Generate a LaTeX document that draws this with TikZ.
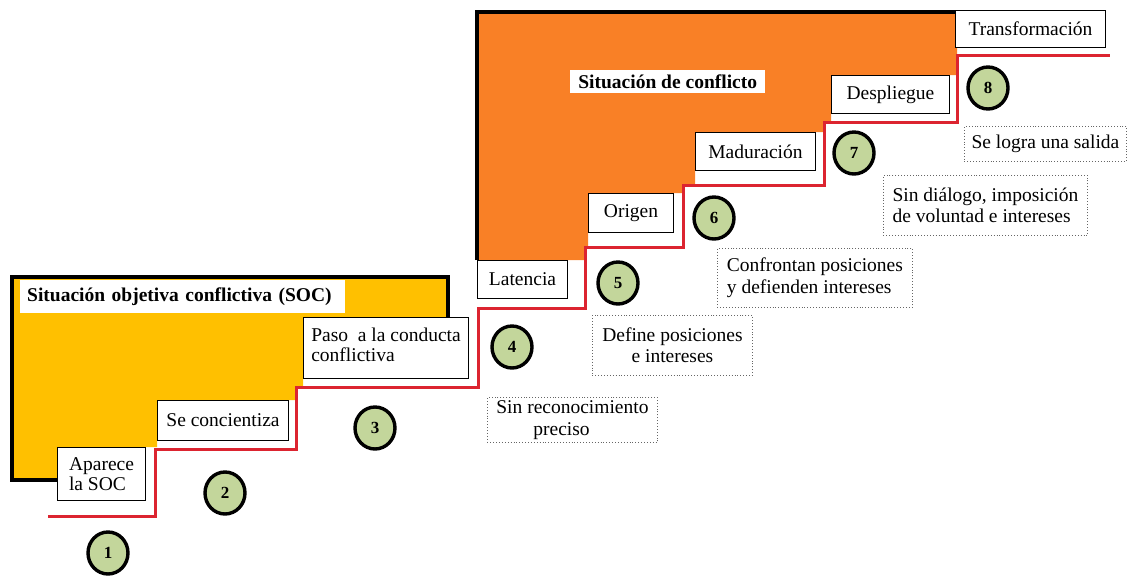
\documentclass[tikz,border=0pt]{standalone}
\usepackage{fontspec}
\setmainfont{Liberation Serif}
\usetikzlibrary{shapes.geometric}
\definecolor{socyellow}{HTML}{FFC000}
\definecolor{conforange}{HTML}{F98026}
\definecolor{stepred}{HTML}{DC2430}
\definecolor{circgreen}{HTML}{C3D69B}
\begin{document}
\begin{tikzpicture}[x=1pt,y=-1pt,
  stepbox/.style={draw=black, line width=1pt, fill=white, anchor=north west,
    inner xsep=3pt, inner ysep=0pt, align=left,
    font=\fontsize{19.5}{20}\selectfont},
  notebox/.style={draw=gray!80!black, dotted, line width=0.9pt, fill=white, anchor=north west,
    inner xsep=3pt, inner ysep=0pt,
    font=\fontsize{19.5}{21.5}\selectfont},
  titlebox/.style={fill=white, anchor=north west, inner xsep=7pt, inner ysep=0pt,
    font=\fontsize{19.5}{21}\selectfont\bfseries},
  numcirc/.style={ellipse, draw=black, line width=3.4pt, fill=circgreen, minimum width=40pt,
    minimum height=42pt, inner sep=0pt, font=\fontsize{17}{17}\selectfont\bfseries},
  border/.style={draw=black, line width=4pt},
  stairline/.style={draw=stepred, line width=3pt}
]
\useasboundingbox (0,0) rectangle (1130,584);
% yellow area
\fill[socyellow] (12,277) -- (448,277) -- (448,317) -- (303,317) -- (303,387) -- (296,387)
  -- (296,400) -- (157,400) -- (157,447) -- (57,447) -- (57,480) -- (12,480) -- cycle;
\draw[border] (57,480) -- (12,480) -- (12,277) -- (448,277) -- (448,317);
% orange area
\fill[conforange] (477,12) -- (957,12) -- (957,75) -- (831,75) -- (831,122) -- (823,122)
  -- (823,132) -- (695,132) -- (695,185) -- (683,185) -- (683,193) -- (588,193)
  -- (588,247) -- (585,247) -- (585,260) -- (477,260) -- cycle;
\draw[border] (477,260) -- (477,12) -- (957,12);
% red staircase
\draw[stairline] (48,516) -- (155,516) -- (155,449) -- (296,449) -- (296,387) -- (478,387)
  -- (478,308) -- (585,308) -- (585,247) -- (683,247) -- (683,185) -- (824,185)
  -- (824,122) -- (957,122) -- (957,55) -- (1110,55);
% titles
\node[titlebox, minimum width=325pt, minimum height=33pt, text width=311pt] (soc) at (20,280)
  {Situación objetiva conflictiva (SOC)};
\node[titlebox, minimum width=195pt, minimum height=23pt, inner xsep=6pt] (conf) at (570,70)
  {Situación de conflicto};
% step boxes
\node[stepbox, minimum width=88pt, minimum height=53pt] (aparece) at (57,447)
  {Aparece\\la SOC};
\node[stepbox, minimum width=131pt, minimum height=40pt] (concientiza) at (157,400)
  {Se concientiza};
\node[stepbox, minimum width=165pt, minimum height=61pt] (paso) at (303,317)
  {Paso\ \ a la conducta\\conflictiva\strut};
\node[stepbox, minimum width=90pt, minimum height=38pt] (latencia) at (477,260)
  {Latencia};
\node[stepbox, minimum width=85pt, minimum height=39pt] (origen) at (588,193)
  {Origen};
\node[stepbox, minimum width=120pt, minimum height=38pt] (maduracion) at (695,132)
  {Maduración};
\node[stepbox, minimum width=118pt, minimum height=38pt] (despliegue) at (831,75)
  {Despliegue};
\node[stepbox, minimum width=150pt, minimum height=37pt] (transformacion) at (955,10)
  {Transformación};
% note boxes
\node[notebox, minimum width=170pt, minimum height=45pt, align=left] (sinrec) at (487,397)
  {Sin reconocimiento\\\hspace*{1.9em}preciso};
\node[notebox, minimum width=160pt, minimum height=60pt, align=center] (define) at (592,315)
  {Define posiciones\\e intereses};
\node[notebox, minimum width=195pt, minimum height=59pt, align=left] (confrontan) at (717,248)
  {Confrontan posiciones\\y defienden intereses};
\node[notebox, minimum width=204pt, minimum height=60pt, align=left] (sindialogo) at (883,175)
  {Sin diálogo, imposición\\de voluntad e intereses};
\node[notebox, minimum width=162pt, minimum height=35pt, align=left] (selogra) at (964,126)
  {Se logra una salida};
% numbered circles
\node[numcirc] (n1) at (108,553) {1};
\node[numcirc] (n2) at (225,493) {2};
\node[numcirc] (n3) at (375,428) {3};
\node[numcirc] (n4) at (512,347) {4};
\node[numcirc] (n5) at (618,283) {5};
\node[numcirc] (n6) at (714,218) {6};
\node[numcirc] (n7) at (854,153) {7};
\node[numcirc] (n8) at (988,88) {8};
\end{tikzpicture}
\end{document}
